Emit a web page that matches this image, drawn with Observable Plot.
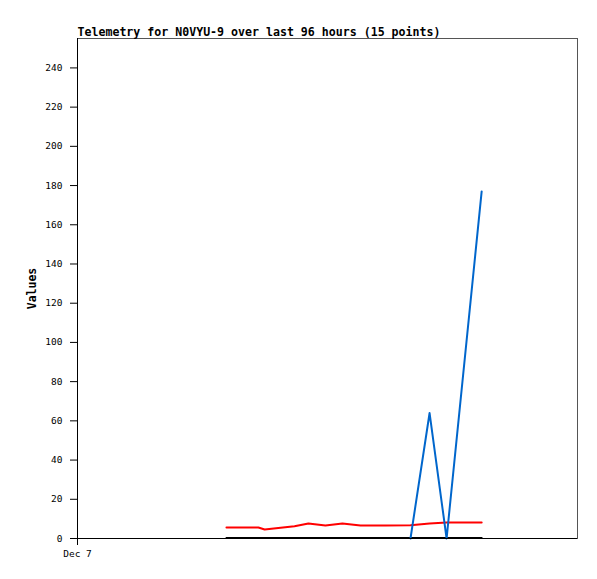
<!DOCTYPE html>
<html>
<head>
<meta charset="utf-8">
<script src="https://cdn.jsdelivr.net/npm/d3@7"></script>
<script src="https://cdn.jsdelivr.net/npm/@observablehq/plot@0.6"></script>
<style>
  html, body { margin: 0; padding: 0; background: #fff; }
  #chart svg { display: block; }
</style>
</head>
<body>
<div id="chart"></div>
<script>
const titleText = "Telemetry for N0VYU-9 over last 96 hours (15 points)";
const yLabel = "Values";
const xTickLabel = "Dec 7";
const xTickTimes = ["2024-12-07T00:00"];
const xDomain = ["2024-12-07T00:00", "2024-12-08T00:00"];
const yTicks = [0, 20, 40, 60, 80, 100, 120, 140, 160, 180, 200, 220, 240];

const times = ["2024-12-07T07:09", "2024-12-07T08:01", "2024-12-07T08:41", "2024-12-07T08:59",
  "2024-12-07T09:45", "2024-12-07T10:25", "2024-12-07T11:05", "2024-12-07T11:54",
  "2024-12-07T12:43", "2024-12-07T13:35", "2024-12-07T14:47", "2024-12-07T15:59",
  "2024-12-07T16:54", "2024-12-07T17:43", "2024-12-07T19:24"];
const redValues = [5.6, 5.6, 5.6, 4.6, 5.5, 6.3, 7.7, 6.6, 7.7, 6.6, 6.6, 6.7, 7.6, 8.1, 8.1];
const blackValues = [0.3, 0.3, 0.3, 0.3, 0.3, 0.3, 0.3, 0.3, 0.3, 0.3, 0.3, 0.3, 0.3, 0.3, 0.3];
const blueValues = [null, null, null, null, null, null, null, null, null, null, null, 0, 64, 0, 177];

const parse = d3.isoParse;
const rows = times.map((t, i) => ({t: parse(t), red: redValues[i], black: blackValues[i], blue: blueValues[i]}));

const mono = "'DejaVu Sans Mono', monospace";

const chart = Plot.plot({
  width: 597,
  height: 579,
  marginLeft: 77,
  marginRight: 20,
  marginTop: 38,
  marginBottom: 41,
  style: {fontFamily: mono, fontSize: "9.5px", background: "#fff", color: "#000"},
  x: {type: "time", domain: xDomain.map(parse)},
  y: {domain: [0, 255]},
  marks: [
    Plot.frame({stroke: "#555"}),
    Plot.axisY({ticks: yTicks, tickSize: 7, tickPadding: 8, tickFormat: d => String(d),
      label: yLabel, labelAnchor: "center", labelArrow: "none", labelOffset: 50,
      fontSize: "9.5px"}),
    Plot.axisX({ticks: xTickTimes.map(parse), tickSize: 7, tickPadding: 5,
      tickFormat: () => xTickLabel, label: null, fontSize: "9.5px"}),
    Plot.line(rows, {x: "t", y: "black", stroke: "#000", strokeWidth: 2}),
    Plot.line(rows, {x: "t", y: "red", stroke: "#ff0000", strokeWidth: 2}),
    Plot.line(rows.filter(d => d.blue != null), {x: "t", y: "blue", stroke: "#0066cc", strokeWidth: 2}),
    Plot.ruleY([0], {stroke: "#000", strokeWidth: 1}),
    Plot.ruleX([parse(xDomain[0])], {stroke: "#000", strokeWidth: 1}),
    Plot.text([titleText], {frameAnchor: "top-left", dy: -11, textAnchor: "start",
      fontWeight: "bold", fontSize: 11.6, fontFamily: mono, fill: "#000"})
  ]
});
chart.querySelectorAll("[aria-label='y-axis label'] text").forEach(t => {
  t.setAttribute("font-weight", "bold");
  t.setAttribute("font-size", "11.5px");
});
document.getElementById("chart").appendChild(chart);
</script>
</body>
</html>
